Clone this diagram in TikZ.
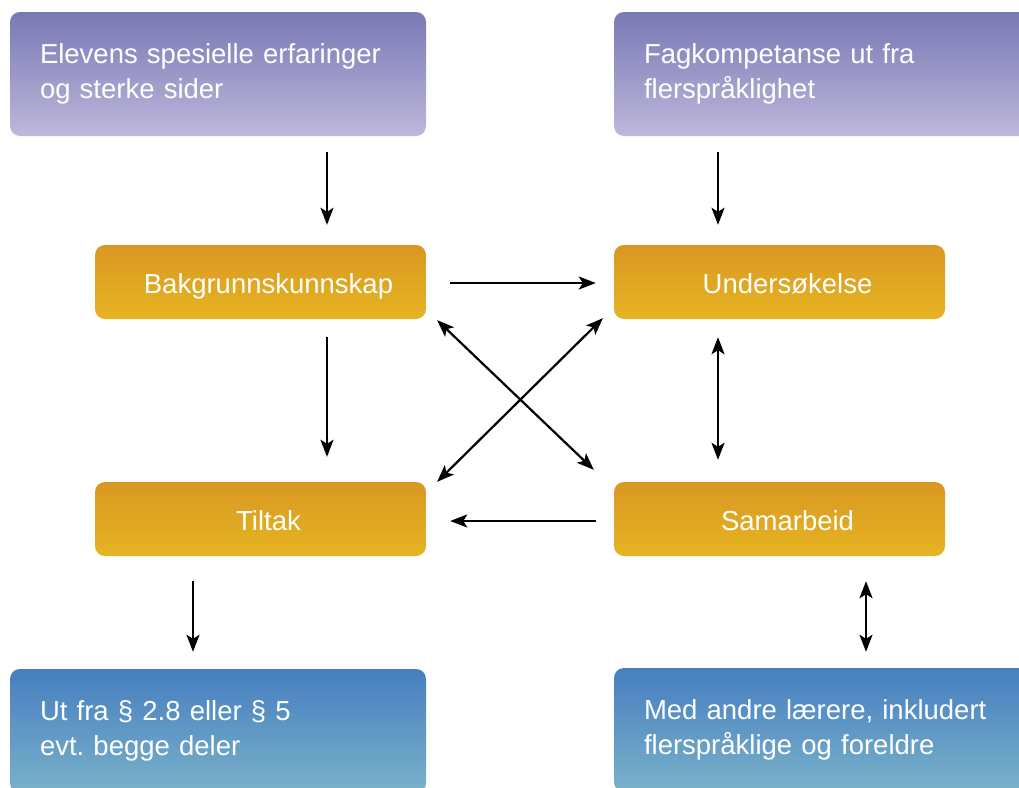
\documentclass[tikz,border=0pt]{standalone}
\usepackage{fontspec}
\setmainfont{Liberation Sans}
\frenchspacing
\usetikzlibrary{arrows.meta}
\definecolor{purpT}{HTML}{7878B4}
\definecolor{purpB}{HTML}{BEB8DC}
\definecolor{oranT}{HTML}{DA9822}
\definecolor{oranB}{HTML}{E6B422}
\definecolor{blueT}{HTML}{467EC0}
\definecolor{blueB}{HTML}{7AB2CA}
\tikzset{
  box/.style={rounded corners=10pt, draw=none, text=white,
    font=\fontsize{27.5pt}{35pt}\selectfont\frenchspacing},
  widebox/.style={box, minimum width=416pt, minimum height=124pt,
    inner xsep=30pt, text width=356pt, align=left},
  purplebox/.style={widebox, top color=purpT, bottom color=purpB},
  bluebox/.style={widebox, top color=blueT, bottom color=blueB},
  orangebox/.style={box, minimum width=331pt, minimum height=74pt,
    text height=22pt, text depth=0pt, top color=oranT, bottom color=oranB},
  arr/.style={line width=2.2pt, -{Stealth[length=17pt,width=13pt,inset=4pt]}},
  darr/.style={line width=2.2pt, {Stealth[length=17pt,width=13pt,inset=4pt]}-{Stealth[length=17pt,width=13pt,inset=4pt]}}
}
\begin{document}
\begin{tikzpicture}[x=1pt,y=-1pt]
\clip (0,0) rectangle (1019,787);
\fill[white] (0,0) rectangle (1019,787);

\node[purplebox] (tl) at (218,74) {Elevens spesielle erfaringer\\og sterke sider};
\node[purplebox] (tr) at (822,74) {Fagkompetanse ut fra\\flerspråklighet};

\node[orangebox] (bk) at (260.5,282) {\hspace*{16pt}Bakgrunnskunnskap};
\node[orangebox] (us) at (779.5,282) {\hspace*{16pt}Undersøkelse};
\node[orangebox] (ti) at (260.5,519) {\hspace*{16pt}Tiltak};
\node[orangebox] (sa) at (779.5,519) {\hspace*{16pt}Samarbeid};

\node[bluebox] (bl) at (218,731) {Ut fra § 2.8 eller § 5\\evt. begge deler};
\node[bluebox] (br) at (822,730) {Med andre lærere, inkludert\\flerspråklige og foreldre};

\coordinate (cA) at (327,0);
\coordinate (cB) at (718,0);
\coordinate (cC) at (193,0);
\coordinate (cD) at (866,0);
\coordinate (rA) at (0,283);
\coordinate (rB) at (0,521);

\draw[arr, shorten <=16pt, shorten >=20pt] (tl.south -| cA) -- (bk.north -| cA);
\draw[arr, shorten <=16pt, shorten >=20pt] (tr.south -| cB) -- (us.north -| cB);
\draw[arr, shorten <=24pt, shorten >=18pt] (bk.east |- rA) -- (us.west |- rA);
\draw[arr, shorten <=18pt, shorten >=25pt] (bk.south -| cA) -- (ti.north -| cA);
\draw[darr] ([shift={(11,1)}]bk.south east) -- ([shift={(-20,-12)}]sa.north west);
\draw[darr] ([shift={(-11,-1)}]us.south west) -- ([shift={(11,0)}]ti.north east);
\draw[darr, shorten <=18pt, shorten >=22pt] (us.south -| cB) -- (sa.north -| cB);
\draw[arr, shorten <=18pt, shorten >=24pt] (sa.west |- rB) -- (ti.east |- rB);
\draw[arr, shorten <=25pt, shorten >=17pt] (ti.south -| cC) -- (bl.north -| cC);
\draw[darr, shorten <=25pt, shorten >=16pt] (sa.south -| cD) -- (br.north -| cD);
\end{tikzpicture}
\end{document}
